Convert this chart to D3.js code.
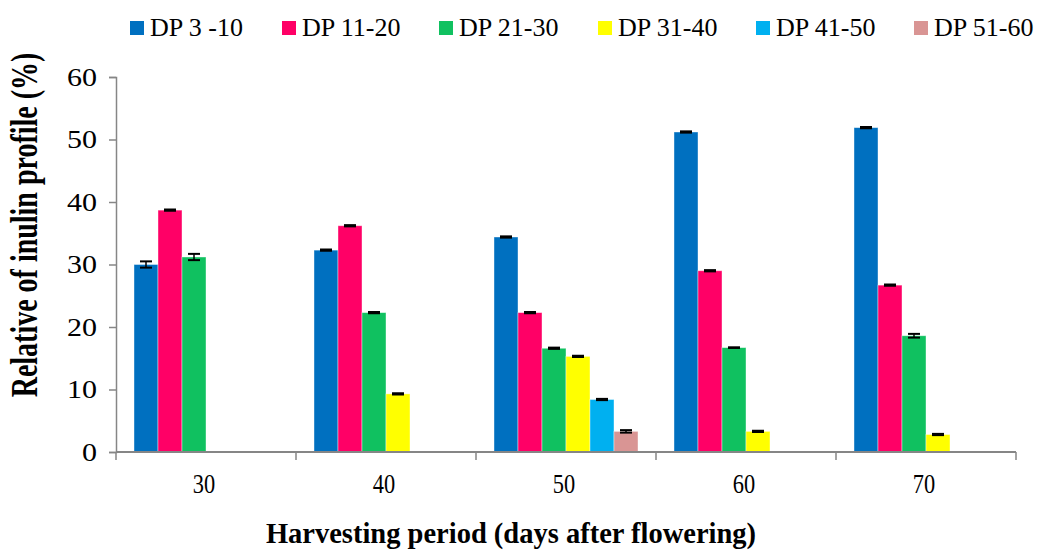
<!DOCTYPE html>
<html>
<head>
<script src="https://cdn.jsdelivr.net/npm/d3@7"></script>
<style>
body { margin: 0; background: #fff; }
</style>
</head>
<body>
<svg id="chart" width="1041" height="551"></svg>
<script>
const categories = ['30', '40', '50', '60', '70'];
const seriesNames = ['DP 3 -10', 'DP 11-20', 'DP 21-30', 'DP 31-40', 'DP 41-50', 'DP 51-60'];
const colors = ['#0070C0', '#FF0066', '#10C160', '#FFFF00', '#00B0F0', '#D99594'];

const dp3_10  = [30.0, 32.3, 34.4, 51.2, 51.9];
const dp11_20 = [38.7, 36.2, 22.3, 29.0, 26.7];
const dp21_30 = [31.2, 22.3, 16.6, 16.7, 18.6];
const dp31_40 = [0, 9.3, 15.3, 3.3, 2.8];
const dp41_50 = [0, 0, 8.4, 0, 0];
const dp51_60 = [0, 0, 3.3, 0, 0];

const err3_10  = [0.5, 0.1, 0.1, 0.1, 0.1];
const err11_20 = [0.1, 0.1, 0.1, 0.1, 0.1];
const err21_30 = [0.5, 0.1, 0.1, 0.05, 0.3];
const err31_40 = [0, 0.1, 0.1, 0.1, 0.1];
const err41_50 = [0, 0, 0.1, 0, 0];
const err51_60 = [0, 0, 0.2, 0, 0];

const yTicks = [0, 10, 20, 30, 40, 50, 60];

const values = [dp3_10, dp11_20, dp21_30, dp31_40, dp41_50, dp51_60];
const errors = [err3_10, err11_20, err21_30, err31_40, err41_50, err51_60];

const FONT = "'Liberation Serif', 'Times New Roman', serif";
const svg = d3.select('#chart');
const plotLeft = 116, plotRight = 1016, plotTop = 77, plotBottom = 452;

const x0 = d3.scaleBand().domain(categories).range([plotLeft, plotRight]).padding(0);
const x1 = d3.scaleBand().domain(seriesNames).range([0, x0.bandwidth()])
  .paddingInner(0).paddingOuter(0.75);
const y = d3.scaleLinear().domain([0, 60]).range([plotBottom, plotTop]);

// bars
const bars = [];
values.forEach((arr, s) => {
  arr.forEach((v, c) => {
    if (v > 0) bars.push({ s, c, v, e: errors[s][c] });
  });
});

svg.append('g').selectAll('rect')
  .data(bars)
  .enter()
  .append('rect')
  .attr('x', d => x0(categories[d.c]) + x1(seriesNames[d.s]))
  .attr('y', d => y(d.v))
  .attr('width', x1.bandwidth())
  .attr('height', d => y(0) - y(d.v))
  .attr('fill', d => colors[d.s])
  .attr('stroke', 'rgba(255,255,255,0.5)')
  .attr('stroke-width', 0.8);

// error bars
const eg = svg.append('g').attr('stroke', '#000').attr('stroke-width', 2);
bars.forEach(d => {
  const cx = x0(categories[d.c]) + x1(seriesNames[d.s]) + x1.bandwidth() / 2;
  const y1 = y(d.v + d.e), y2 = y(d.v - d.e);
  eg.append('line').attr('x1', cx).attr('x2', cx).attr('y1', y1).attr('y2', y2).attr('stroke-width', 1.5);
  eg.append('line').attr('x1', cx - 6).attr('x2', cx + 6).attr('y1', y1).attr('y2', y1);
  eg.append('line').attr('x1', cx - 6).attr('x2', cx + 6).attr('y1', y2).attr('y2', y2);
});

// y axis (labels drawn separately, they are a bit wide in the original)
const yAxis = svg.append('g')
  .attr('transform', `translate(${plotLeft},0)`)
  .call(d3.axisLeft(y).tickValues(yTicks).tickSize(7).tickFormat(''));
yAxis.select('.domain').attr('stroke', '#868686').attr('stroke-width', 1.5);
yAxis.selectAll('.tick line').attr('stroke', '#868686').attr('stroke-width', 1.5);

svg.append('g').selectAll('text')
  .data(yTicks)
  .enter()
  .append('text')
  .attr('transform', d => `translate(97,${y(d)}) scale(1.2,1)`)
  .attr('dy', '0.34em')
  .attr('text-anchor', 'end')
  .style('font-family', FONT)
  .style('font-size', '25px')
  .text(d => d);

// x axis
const xAxis = svg.append('g')
  .attr('transform', `translate(0,${plotBottom})`);
xAxis.append('line')
  .attr('x1', plotLeft).attr('x2', plotRight).attr('y1', 0).attr('y2', 0)
  .attr('stroke', '#868686').attr('stroke-width', 2);
const boundaries = categories.map(c => x0(c)).concat([plotRight]);
xAxis.selectAll('.xtick')
  .data(boundaries)
  .enter()
  .append('line')
  .attr('x1', d => d).attr('x2', d => d)
  .attr('y1', 0).attr('y2', 8)
  .attr('stroke', '#868686').attr('stroke-width', 1.5);
xAxis.selectAll('.xlabel')
  .data(categories)
  .enter()
  .append('text')
  .attr('transform', d => `translate(${x0(d) + x0.bandwidth() / 2 - 2},41) scale(0.8,1)`)
  .attr('text-anchor', 'middle')
  .style('font-family', FONT)
  .style('font-size', '28px')
  .text(d => d);

// axis titles
svg.append('text')
  .attr('transform', `translate(37,225) scale(1.35,1) rotate(-90)`)
  .attr('text-anchor', 'middle')
  .style('font-family', FONT)
  .style('font-size', '28px')
  .style('font-weight', 'bold')
  .text('Relative of inulin profile (%)');

svg.append('text')
  .attr('x', 511)
  .attr('y', 543)
  .attr('text-anchor', 'middle')
  .style('font-family', FONT)
  .style('font-size', '28.5px')
  .style('font-weight', 'bold')
  .text('Harvesting period (days after flowering)');

// legend
const legendX = [130, 282, 439, 598, 756, 914];
const lg = svg.append('g');
seriesNames.forEach((name, i) => {
  lg.append('rect')
    .attr('x', legendX[i]).attr('y', 21)
    .attr('width', 14).attr('height', 14)
    .attr('fill', colors[i]);
  lg.append('text')
    .attr('x', legendX[i] + 20).attr('y', 36)
    .style('font-family', FONT)
    .style('font-size', '26px')
    .text(name);
});
</script>
</body>
</html>
